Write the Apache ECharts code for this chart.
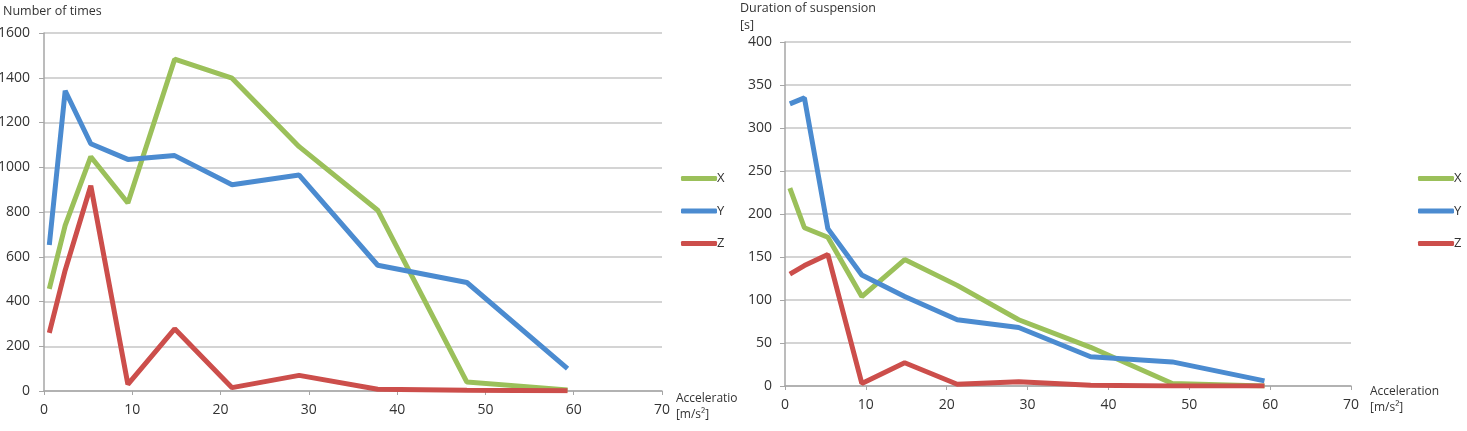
<!DOCTYPE html>
<html>
<head>
<meta charset="utf-8">
<script src="https://cdn.jsdelivr.net/npm/echarts@6/dist/echarts.min.js"></script>
<style>
  html, body { margin: 0; padding: 0; background: #fff; }
  #chart { width: 1467px; height: 431px; }
</style>
</head>
<body>
<div id="chart"></div>
<script>
// acceleration classes [m/s²] (x positions)
const accel = [0.6, 2.4, 5.3, 9.5, 14.8, 21.3, 28.9, 37.8, 47.9, 59.3];

// left: number of times
const timesX = [456, 740, 1047, 840, 1483, 1398, 1092, 808, 40, 5];
const timesY = [652, 1342, 1105, 1035, 1052, 922, 965, 562, 485, 100];
const timesZ = [260, 540, 917, 30, 278, 15, 70, 8, 3, 1];

// right: duration of suspension [s]
const durX = [230, 184, 173, 104, 147, 117, 77, 45, 3, 0];
const durY = [328, 335, 183, 129, 104, 77, 68, 34, 28, 6];
const durZ = [130, 140, 153, 3, 27, 2, 5, 1, 0, 0];

const leftTicks = [0, 200, 400, 600, 800, 1000, 1200, 1400, 1600];
const rightTicks = [0, 50, 100, 150, 200, 250, 300, 350, 400];
const xTicks = [0, 10, 20, 30, 40, 50, 60, 70];

const colors = { X: '#9bc05a', Y: '#4b8bd0', Z: '#cc4e4b' };
const font = 'Open Sans, DejaVu Sans, sans-serif';

const pairs = (vals) => vals.map((v, i) => [accel[i], v]);

const chart = echarts.init(document.getElementById('chart'));

function xAxisFor(gridIndex) {
  const axis = {
    type: 'value',
    gridIndex: gridIndex,
    min: xTicks[0],
    max: xTicks[xTicks.length - 1],
    interval: 10,
    name: 'Acceleration\n[m/s²]',
    nameLocation: 'end',
    nameGap: gridIndex === 0 ? 10 : 19,
    nameTextStyle: {
      color: '#333',
      fontFamily: font,
      fontSize: 12,
      lineHeight: 16,
      align: 'left',
      verticalAlign: 'top',
      padding: [gridIndex === 0 ? 0 : -2, 0, 0, 0]
    },
    axisLine: { show: true, lineStyle: { color: '#a6a6a6', width: 1.5 } },
    axisTick: { show: true, length: 4, lineStyle: { color: '#a6a6a6' } },
    axisLabel: { color: '#333', fontFamily: font, fontSize: 14, margin: 12 },
    splitLine: { show: false }
  };
  // the left chart's name is cut off by the right chart's area
  if (gridIndex === 0) axis.nameTruncate = { maxWidth: 65, ellipsis: '' };
  return axis;
}

function yAxisFor(gridIndex, ticks) {
  return {
    type: 'value',
    gridIndex: gridIndex,
    min: ticks[0],
    max: ticks[ticks.length - 1],
    interval: ticks[1] - ticks[0],
    axisLine: { show: true, lineStyle: { color: '#a6a6a6', width: 1.5 } },
    axisTick: { show: true, length: 5, lineStyle: { color: '#a6a6a6' } },
    axisLabel: {
      color: '#333', fontFamily: font, fontSize: 14,
      margin: gridIndex === 0 ? 14 : 13,
      formatter: (v) => String(v)
    },
    splitLine: { show: true, lineStyle: { color: '#c6c6c6', width: 1.5 } }
  };
}

function lineSeries(name, vals, idx) {
  return {
    name: name,
    type: 'line',
    xAxisIndex: idx,
    yAxisIndex: idx,
    data: pairs(vals),
    symbol: 'none',
    lineStyle: { width: 5, color: colors[name] },
    itemStyle: { color: colors[name] },
    animation: false
  };
}

function legendFor(left) {
  return {
    orient: 'vertical',
    left: left,
    top: 172,
    padding: 0,
    itemWidth: 36,
    itemHeight: 5,
    itemGap: 19.5,
    icon: 'roundRect',
    data: ['X', 'Y', 'Z'],
    textStyle: { color: '#333', fontFamily: font, fontSize: 13, padding: [0, 0, 0, -5] }
  };
}

const option = {
  animation: false,
  title: [
    {
      text: 'Number of times',
      left: 3, top: 5, padding: 0,
      textStyle: { color: '#333', fontFamily: font, fontSize: 12.5, fontWeight: 'normal' }
    },
    {
      text: 'Duration of suspension\n[s]',
      left: 740, top: 0, padding: 0,
      textStyle: { color: '#333', fontFamily: font, fontSize: 12.5, fontWeight: 'normal', lineHeight: 17 }
    }
  ],
  legend: [legendFor(681), legendFor(1418)],
  grid: [
    { left: 44, top: 33, width: 618, height: 358, outerBoundsMode: 'none' },
    { left: 785, top: 42, width: 566, height: 344, outerBoundsMode: 'none' }
  ],
  xAxis: [xAxisFor(0), xAxisFor(1)],
  yAxis: [yAxisFor(0, leftTicks), yAxisFor(1, rightTicks)],
  series: [
    lineSeries('X', timesX, 0),
    lineSeries('Y', timesY, 0),
    lineSeries('Z', timesZ, 0),
    lineSeries('X', durX, 1),
    lineSeries('Y', durY, 1),
    lineSeries('Z', durZ, 1)
  ]
};

chart.setOption(option);
</script>
</body>
</html>
